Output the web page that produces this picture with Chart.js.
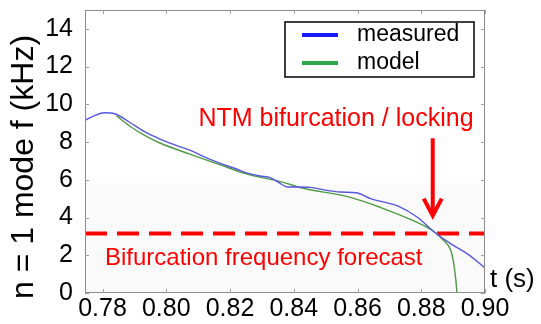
<!DOCTYPE html>
<html>
<head>
<meta charset="utf-8">
<script src="https://cdn.jsdelivr.net/npm/chart.js@4"></script>
<style>
  body { margin: 0; background: #fff; }
</style>
</head>
<body>
<canvas id="freqCanvas" width="541" height="324"></canvas>
<script>
// x range and ticks
var xMin = 0.7745;
var xMax = 0.90;
var xTicks = [0.78, 0.80, 0.82, 0.84, 0.86, 0.88, 0.90];
var yTicks = [0, 2, 4, 6, 8, 10, 12, 14];

// measured n=1 mode frequency (kHz)
var measuredT = [0.7745, 0.7775, 0.7806, 0.7838, 0.7885, 0.7932, 0.798, 0.8027, 0.8074, 0.8121,
  0.8168, 0.8216, 0.8254, 0.8295, 0.8326, 0.8351, 0.838, 0.8411, 0.8452, 0.8499,
  0.8547, 0.86, 0.8641, 0.8688, 0.8726, 0.8789, 0.8836, 0.8893, 0.8947, 0.90];
var measuredF = [9.15, 9.4, 9.55, 9.5, 9.05, 8.55, 8.16, 7.85, 7.57, 7.2,
  6.88, 6.6, 6.35, 6.2, 6.12, 5.88, 5.62, 5.62, 5.6, 5.45,
  5.35, 5.3, 5.0, 4.8, 4.62, 4.0, 3.3, 2.6, 2.05, 1.33];

// model frequency
var modelT = [0.7844, 0.7885, 0.7932, 0.798, 0.8074, 0.8168, 0.8254, 0.8358, 0.843, 0.8578,
  0.8673, 0.8789, 0.8836, 0.8871, 0.8893, 0.8902, 0.8909, 0.8912];
var modelF = [9.4, 8.85, 8.35, 7.95, 7.36, 6.8, 6.3, 5.9, 5.55, 5.07,
  4.53, 3.73, 3.3, 2.77, 2.24, 1.55, 0.6, 0];

var forecastF = 3.15;   // bifurcation frequency forecast
var bandF = 5.8;        // light shaded band top
var arrowT = 0.8836;
var arrowFrom = 8.2;
var arrowTo = 4.1;

var seriesLabels = ["measured", "model"];
var legendColors = ["#1a1aff", "#2ea84a"];

function pts(xs, ys) {
  var out = [];
  for (let i = 0; i < xs.length; i++) {
    out.push({x: xs[i], y: ys[i]});
  }
  return out;
}

const FONT = "'Liberation Sans', Arial, sans-serif";

const overlay = {
  id: "overlay",
  afterDraw(chart) {
    const ctx = chart.ctx;
    const a = chart.chartArea;
    const x = chart.scales.x;
    const y = chart.scales.y;
    ctx.save();

    // frame
    ctx.strokeStyle = "#8c8c8c";
    ctx.lineWidth = 1;
    ctx.strokeRect(a.left + 0.5, a.top + 0.5, a.right - a.left - 1, a.bottom - a.top - 1);

    // inward ticks on all four sides
    ctx.strokeStyle = "#a0a0a0";
    ctx.beginPath();
    xTicks.forEach(function (v) {
      const px = Math.round(x.getPixelForValue(v)) + 0.5;
      ctx.moveTo(px, a.bottom); ctx.lineTo(px, a.bottom - 4);
      ctx.moveTo(px, a.top); ctx.lineTo(px, a.top + 4);
    });
    yTicks.forEach(function (v) {
      const py = Math.round(y.getPixelForValue(v)) + 0.5;
      ctx.moveTo(a.left, py); ctx.lineTo(a.left + 4, py);
      ctx.moveTo(a.right, py); ctx.lineTo(a.right - 4, py);
    });
    ctx.stroke();

    // arrow
    const ax = x.getPixelForValue(arrowT);
    const ay0 = y.getPixelForValue(arrowFrom);
    const ay1 = y.getPixelForValue(arrowTo);
    ctx.strokeStyle = "#ff0000";
    ctx.lineWidth = 4;
    ctx.beginPath();
    ctx.moveTo(ax, ay0); ctx.lineTo(ax, ay1 - 2);
    ctx.stroke();
    ctx.beginPath();
    ctx.moveTo(ax - 9, ay1 - 17);
    ctx.lineTo(ax, ay1);
    ctx.lineTo(ax + 9, ay1 - 17);
    ctx.stroke();

    // annotations
    ctx.fillStyle = "#ff0000";
    ctx.textBaseline = "alphabetic";
    ctx.font = "25px " + FONT;
    ctx.textAlign = "center";
    ctx.fillText("NTM bifurcation / locking", 336, 126);
    ctx.font = "24px " + FONT;
    ctx.textAlign = "left";
    ctx.fillText("Bifurcation frequency forecast", 105, 265);

    // axis titles
    ctx.fillStyle = "#000";
    ctx.font = "26px " + FONT;
    ctx.fillText("t (s)", 490, 287);
    ctx.save();
    ctx.translate(33, 167);
    ctx.rotate(-Math.PI / 2);
    ctx.textAlign = "center";
    ctx.font = "32px " + FONT;
    ctx.fillText("n = 1 mode f (kHz)", 0, 0);
    ctx.restore();

    // legend box
    ctx.fillStyle = "#fff";
    ctx.fillRect(285, 22, 189, 55);
    ctx.strokeStyle = "#000";
    ctx.lineWidth = 1.5;
    ctx.strokeRect(285, 22, 189, 55);
    ctx.font = "23px " + FONT;
    ctx.textBaseline = "middle";
    ctx.textAlign = "left";
    for (let i = 0; i < seriesLabels.length; i++) {
      const ly = 35 + i * 28;
      ctx.strokeStyle = legendColors[i];
      ctx.lineWidth = 4;
      ctx.beginPath();
      ctx.moveTo(302, ly); ctx.lineTo(338, ly);
      ctx.stroke();
      ctx.fillStyle = "#000";
      ctx.fillText(seriesLabels[i], 357, ly);
    }
    ctx.restore();
  }
};

new Chart(document.getElementById("freqCanvas"), {
  type: "line",
  data: {
    datasets: [
      {
        label: seriesLabels[0],
        data: pts(measuredT, measuredF),
        borderColor: "#5656e0",
        borderWidth: 1.4,
        pointRadius: 0,
        cubicInterpolationMode: "monotone",
        fill: false
      },
      {
        label: seriesLabels[1],
        data: pts(modelT, modelF),
        borderColor: "#4f9a45",
        borderWidth: 1.4,
        pointRadius: 0,
        cubicInterpolationMode: "monotone",
        fill: false
      },
      {
        label: "forecast",
        data: pts([xMin, xMax], [forecastF, forecastF]),
        borderColor: "#ff0000",
        borderWidth: 4,
        borderDash: [22, 10],
        pointRadius: 0,
        fill: false
      },
      {
        label: "band",
        data: pts([xMin, xMax], [bandF, bandF]),
        borderWidth: 0,
        borderColor: "rgba(0,0,0,0)",
        backgroundColor: "rgba(0,0,0,0.018)",
        pointRadius: 0,
        fill: "origin"
      }
    ]
  },
  options: {
    responsive: false,
    animation: false,
    devicePixelRatio: 1,
    layout: { padding: { left: 0, top: 10, right: 56, bottom: 0 } },
    plugins: {
      legend: { display: false },
      tooltip: { enabled: false }
    },
    scales: {
      x: {
        type: "linear",
        min: xMin,
        max: xMax,
        grid: { display: false, drawTicks: false },
        border: { display: false },
        afterBuildTicks: function (scale) {
          scale.ticks = xTicks.map(function (v) { return {value: v}; });
        },
        afterFit: function (scale) {
          scale.height = 31;
          scale.paddingLeft = 0;
          scale.paddingRight = 0;
        },
        ticks: {
          padding: 1,
          color: "#000",
          maxRotation: 0,
          autoSkip: false,
          font: { family: FONT, size: 25 },
          callback: function (v) { return Number(v).toFixed(2); }
        }
      },
      y: {
        min: 0,
        max: 15,
        grid: { display: false, drawTicks: false },
        border: { display: false },
        afterBuildTicks: function (scale) {
          scale.ticks = yTicks.map(function (v) { return {value: v}; });
        },
        afterFit: function (scale) {
          scale.width = 85;
          scale.paddingTop = 0;
          scale.paddingBottom = 0;
        },
        ticks: {
          padding: 12,
          color: "#000",
          font: { family: FONT, size: 25 },
          callback: function (v) { return v; }
        }
      }
    }
  },
  plugins: [overlay]
});
</script>
</body>
</html>
